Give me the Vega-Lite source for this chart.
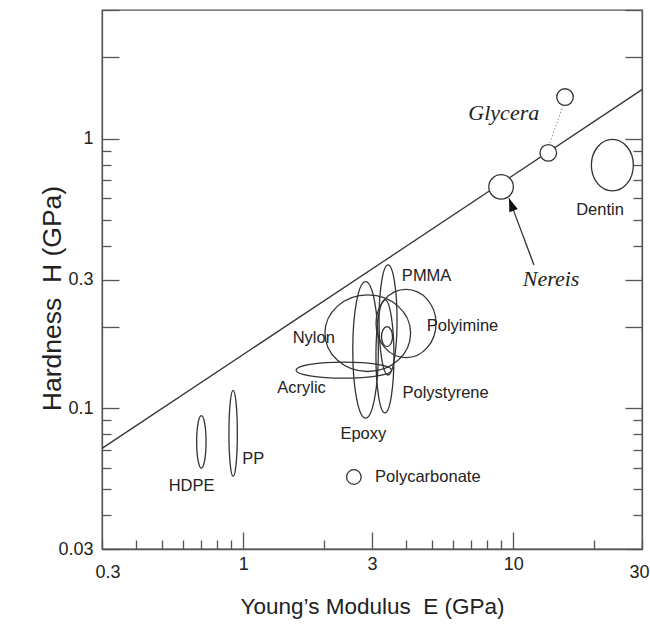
{
  "$schema": "https://vega.github.io/schema/vega-lite/v6.json",
  "width": 540,
  "height": 539,
  "autosize": {"type": "none"},
  "padding": {"left": 102, "top": 10, "right": 8, "bottom": 77},
  "background": "white",
  "config": {
    "view": {"stroke": "#555", "strokeWidth": 1.3},
    "font": "Liberation Sans",
    "axis": {
      "domainColor": "#555", "domainWidth": 1.3, "tickColor": "#555", "tickWidth": 1.3,
      "labelFont": "Liberation Sans", "labelFontSize": 18, "labelColor": "#222",
      "titleFont": "Liberation Sans", "titleFontSize": 22.5, "titleFontWeight": "normal", "titleColor": "#222",
      "grid": false
    }
  },
  "datasets": {
    "fit": [{"E": 0.3, "H": 0.0709}, {"E": 30, "H": 1.519}],
    "open": [
      {"name": "Nylon", "E": 2.894, "H": 0.1896},
      {"name": "Polyimine", "E": 4.01, "H": 0.206},
      {"name": "Epoxy", "E": 2.84, "H": 0.1644},
      {"name": "Acrylic", "E": 2.36, "H": 0.1383},
      {"name": "PMMA", "E": 3.44, "H": 0.2124},
      {"name": "Polystyrene", "E": 3.35, "H": 0.1556},
      {"name": "Inner", "E": 3.41, "H": 0.184},
      {"name": "HDPE", "E": 0.70, "H": 0.0749},
      {"name": "PP", "E": 0.918, "H": 0.0805}
    ],
    "filled": [
      {"name": "Nereis", "E": 9.02, "H": 0.662},
      {"name": "Glycera low", "E": 13.49, "H": 0.885},
      {"name": "Glycera high", "E": 15.56, "H": 1.426},
      {"name": "Dentin", "E": 23.3, "H": 0.797},
      {"name": "Polycarbonate", "E": 2.57, "H": 0.0555}
    ],
    "connector": [{"E": 15.33, "H": 1.329, "E2": 13.61, "H2": 0.953}],
    "arrow": [{"E": 11.94, "H": 0.3396, "E2": 9.65, "H2": 0.600}],
    "arrowhead": [{"E": 9.65, "H": 0.600}],
    "sansLabels": [
      {"label": "PMMA", "E": 4.78, "H": 0.309},
      {"label": "Polyimine", "E": 6.49, "H": 0.202},
      {"label": "Nylon", "E": 1.826, "H": 0.1817},
      {"label": "Acrylic", "E": 1.645, "H": 0.1186},
      {"label": "Polystyrene", "E": 5.62, "H": 0.1137},
      {"label": "Epoxy", "E": 2.786, "H": 0.0801},
      {"label": "HDPE", "E": 0.644, "H": 0.0513},
      {"label": "PP", "E": 1.09, "H": 0.0647},
      {"label": "Polycarbonate", "E": 4.83, "H": 0.0555},
      {"label": "Dentin", "E": 20.97, "H": 0.543}
    ],
    "serifLabels": [
      {"label": "Glycera", "E": 9.23, "H": 1.241},
      {"label": "Nereis", "E": 13.81, "H": 0.301}
    ]
  },
  "layer": [
    {
      "data": {"name": "fit"},
      "mark": {"type": "line", "color": "#333", "strokeWidth": 1.3},
      "encoding": {
        "x": {"field": "E", "type": "quantitative",
          "scale": {"type": "log", "domain": [0.3, 30], "nice": false},
          "axis": {
            "orient": "bottom",
            "values": [0.3, 0.4, 0.5, 0.6, 0.7, 0.8, 0.9, 1, 2, 3, 4, 5, 6, 7, 8, 9, 10, 20, 30],
            "format": "~g",
            "labelExpr": "indexof([0.3, 1, 3, 10, 30], datum.value) >= 0 ? datum.label : ''",
            "tickSize": {"condition": {"test": "indexof([1, 3, 10], datum.value) >= 0", "value": -17}, "value": -9},
            "labelPadding": 23,
            "labelFlush": true,
            "labelFlushOffset": 7,
            "title": "Young’s Modulus\u00a0 E (GPa)",
            "titleX": 270, "titleY": 57, "titleBaseline": "middle", "titleAlign": "center"
          }
        },
        "y": {"field": "H", "type": "quantitative",
          "scale": {"type": "log", "domain": [0.03, 3], "nice": false},
          "axis": {
            "orient": "left",
            "values": [0.03, 0.04, 0.05, 0.06, 0.07, 0.08, 0.09, 0.1, 0.2, 0.3, 0.4, 0.5, 0.6, 0.7, 0.8, 0.9, 1, 2, 3],
            "format": "~g",
            "labelExpr": "indexof([0.03, 0.1, 0.3, 1], datum.value) >= 0 ? datum.label : ''",
            "tickSize": {"condition": {"test": "indexof([0.03, 0.1, 0.2, 0.3, 1, 2, 3], datum.value) >= 0", "value": -17}, "value": -9},
            "labelPadding": 26,
            "title": "Hardness\u00a0 H (GPa)",
            "titleFontSize": 26.5,
            "titleX": -50, "titleY": 288, "titleBaseline": "middle", "titleAlign": "center", "titleAngle": -90
          }
        }
      }
    },
    {
      "data": {"name": "open"},
      "mark": {"type": "point", "filled": false, "stroke": "#333", "strokeWidth": 1.3, "opacity": 1, "size": 4},
      "encoding": {
        "x": {"field": "E", "type": "quantitative", "axis": null},
        "y": {"field": "H", "type": "quantitative",
          "axis": {
            "orient": "right",
            "values": [0.03, 0.04, 0.05, 0.06, 0.07, 0.08, 0.09, 0.1, 0.2, 0.3, 0.4, 0.5, 0.6, 0.7, 0.8, 0.9, 1, 2, 3],
            "labels": false,
            "tickSize": {"condition": {"test": "indexof([0.03, 0.1, 0.2, 0.3, 1, 2, 3], datum.value) >= 0", "value": -17}, "value": -9},
            "title": null
          }
        },
        "shape": {"field": "name", "type": "nominal", "legend": null,
          "scale": {
            "domain": ["Nylon", "Polyimine", "Epoxy", "Acrylic", "PMMA", "Polystyrene", "Inner", "HDPE", "PP"],
            "range": [
              "M -42.8 0 A 42.8 38.3 0 1 0 42.8 0 A 42.8 38.3 0 1 0 -42.8 0 Z",
              "M -30 0 A 30 34.2 0 1 0 30 0 A 30 34.2 0 1 0 -30 0 Z",
              "M -12.8 0 A 12.8 68.3 0 1 0 12.8 0 A 12.8 68.3 0 1 0 -12.8 0 Z",
              "M -47.8 0 A 47.8 8 0 1 0 47.8 0 A 47.8 8 0 1 0 -47.8 0 Z",
              "M -9 0 A 9 55 0 1 0 9 0 A 9 55 0 1 0 -9 0 Z",
              "M -9 0 A 9 56.5 0 1 0 9 0 A 9 56.5 0 1 0 -9 0 Z",
              "M -5.5 0 A 5.5 10 0 1 0 5.5 0 A 5.5 10 0 1 0 -5.5 0 Z",
              "M -4.7 0 A 4.7 26.2 0 1 0 4.7 0 A 4.7 26.2 0 1 0 -4.7 0 Z",
              "M -4.2 0 A 4.2 43 0 1 0 4.2 0 A 4.2 43 0 1 0 -4.2 0 Z"
            ]
          }
        }
      }
    },
    {
      "data": {"name": "filled"},
      "mark": {"type": "point", "filled": true, "fill": "white", "stroke": "#333", "strokeWidth": 1.3, "opacity": 1, "size": 4},
      "encoding": {
        "x": {"field": "E", "type": "quantitative", "axis": null},
        "y": {"field": "H", "type": "quantitative", "axis": null},
        "shape": {"field": "name", "type": "nominal", "legend": null,
          "scale": {
            "domain": ["Nereis", "Glycera low", "Glycera high", "Dentin", "Polycarbonate"],
            "range": [
              "M -12.3 0 A 12.3 12.3 0 1 0 12.3 0 A 12.3 12.3 0 1 0 -12.3 0 Z",
              "M -8.3 0 A 8.3 8.3 0 1 0 8.3 0 A 8.3 8.3 0 1 0 -8.3 0 Z",
              "M -8.3 0 A 8.3 8.3 0 1 0 8.3 0 A 8.3 8.3 0 1 0 -8.3 0 Z",
              "M -21 0 A 21 25.7 0 1 0 21 0 A 21 25.7 0 1 0 -21 0 Z",
              "M -7.3 0 A 7.3 7.3 0 1 0 7.3 0 A 7.3 7.3 0 1 0 -7.3 0 Z"
            ]
          }
        }
      }
    },
    {
      "data": {"name": "connector"},
      "mark": {"type": "rule", "color": "#888", "strokeWidth": 1, "strokeDash": [1.5, 2]},
      "encoding": {
        "x": {"field": "E", "type": "quantitative", "axis": null},
        "y": {"field": "H", "type": "quantitative", "axis": null},
        "x2": {"field": "E2"},
        "y2": {"field": "H2"}
      }
    },
    {
      "data": {"name": "arrow"},
      "mark": {"type": "rule", "color": "#333", "strokeWidth": 1.3},
      "encoding": {
        "x": {"field": "E", "type": "quantitative", "axis": null},
        "y": {"field": "H", "type": "quantitative", "axis": null},
        "x2": {"field": "E2"},
        "y2": {"field": "H2"}
      }
    },
    {
      "data": {"name": "arrowhead"},
      "mark": {"type": "point", "shape": "M 0 0 L 4.5 13 L -4.5 13 Z", "size": 4, "filled": true, "color": "#111", "opacity": 1, "angle": -20.5},
      "encoding": {
        "x": {"field": "E", "type": "quantitative", "axis": null},
        "y": {"field": "H", "type": "quantitative", "axis": null}
      }
    },
    {
      "data": {"name": "sansLabels"},
      "mark": {"type": "text", "font": "Liberation Sans", "fontSize": 16.5, "color": "#222", "align": "center", "baseline": "middle"},
      "encoding": {
        "x": {"field": "E", "type": "quantitative", "axis": null},
        "y": {"field": "H", "type": "quantitative", "axis": null},
        "text": {"field": "label"}
      }
    },
    {
      "data": {"name": "serifLabels"},
      "mark": {"type": "text", "font": "Liberation Serif", "fontStyle": "italic", "fontSize": 22, "color": "#222", "align": "center", "baseline": "middle"},
      "encoding": {
        "x": {"field": "E", "type": "quantitative", "axis": null},
        "y": {"field": "H", "type": "quantitative", "axis": null},
        "text": {"field": "label"}
      }
    }
  ],
  "resolve": {"axis": {"x": "independent", "y": "independent"}, "scale": {"shape": "independent"}}
}
